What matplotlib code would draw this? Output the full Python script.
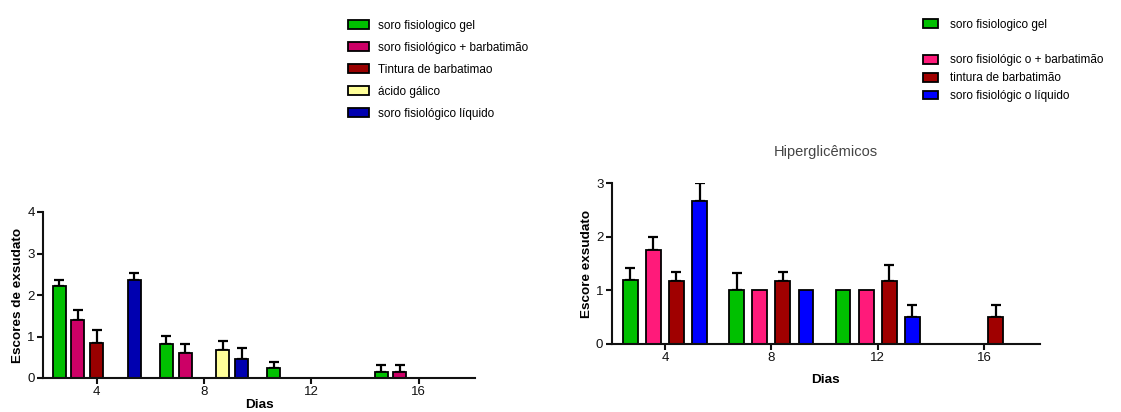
import numpy as np
import matplotlib
matplotlib.use("Agg")
import matplotlib.pyplot as plt
from matplotlib.patches import Patch

plt.rcParams['font.family'] = ['Liberation Sans', 'DejaVu Sans']

days = [4, 8, 12, 16]

# Left chart (no title)
left_labels = ["soro fisiologico gel", "soro fisiológico + barbatimão",
               "Tintura de barbatimao", "ácido gálico", "soro fisiológico líquido"]
left_colors = ["#00c000", "#cc0066", "#990000", "#ffff99", "#0000b0"]
left_gel = [2.21, 0.81, 0.24, 0.15]
left_gel_err = [0.14, 0.21, 0.14, 0.16]
left_sfb = [1.40, 0.61, 0.0, 0.15]
left_sfb_err = [0.24, 0.21, 0.0, 0.16]
left_tint = [0.84, 0.0, 0.0, 0.0]
left_tint_err = [0.32, 0.0, 0.0, 0.0]
left_acido = [0.0, 0.67, 0.0, 0.0]
left_acido_err = [0.0, 0.23, 0.0, 0.0]
left_liq = [2.35, 0.46, 0.0, 0.0]
left_liq_err = [0.17, 0.26, 0.0, 0.0]

# Right chart "Hiperglicêmicos"
right_labels = ["soro fisiologico gel", "soro fisiológic o + barbatimão",
                "tintura de barbatimão", "soro fisiológic o líquido"]
right_colors = ["#00c000", "#ff1a7a", "#a00000", "#0000ff"]
right_gel = [1.20, 1.00, 1.00, 0.0]
right_gel_err = [0.21, 0.32, 0.0, 0.0]
right_sfb = [1.75, 1.00, 1.00, 0.0]
right_sfb_err = [0.25, 0.0, 0.0, 0.0]
right_tint = [1.17, 1.17, 1.17, 0.50]
right_tint_err = [0.17, 0.17, 0.31, 0.23]
right_liq = [2.67, 1.00, 0.50, 0.0]
right_liq_err = [0.33, 0.0, 0.23, 0.0]

W, H = 1121, 412
fig = plt.figure(figsize=(W / 100, H / 100), dpi=100)


def draw(ax, series, errs, colors, labels, spacing, width, ymax, ylabel, xlpad):
    n = len(series)
    x = np.array(days, dtype=float)
    handles = []
    for i, (vals, err, c, lab) in enumerate(zip(series, errs, colors, labels)):
        off = (i - (n - 1) / 2) * spacing
        v = np.array(vals, dtype=float)
        e = np.array(err, dtype=float)
        vplot = np.where(v > 0, v, np.nan)
        b = ax.bar(x + off, vplot, width, color=c, edgecolor="black",
                   linewidth=1.3, label=lab, zorder=2)
        handles.append(b)
        m = (v > 0) & (e > 0)
        if m.any():
            ax.errorbar((x + off)[m], v[m], yerr=[np.zeros(m.sum()), e[m]],
                        fmt="none", ecolor="black", elinewidth=1.6,
                        capsize=3.5, capthick=1.6, zorder=1)
    ax.set_xlim(2, 18.1)
    ax.set_ylim(0, ymax)
    ax.set_xticks(days)
    ax.set_yticks(range(0, ymax + 1))
    for s in ["top", "right"]:
        ax.spines[s].set_visible(False)
    for s in ["left", "bottom"]:
        ax.spines[s].set_linewidth(1.5)
        ax.spines[s].set_color("#111111")
    ax.tick_params(axis="both", width=1.5, length=4, labelsize=9.5,
                   colors="#111111", pad=2)
    ax.set_ylabel(ylabel, fontsize=9.7, fontweight="bold", labelpad=2)
    ax.set_xlabel("Dias", fontsize=9.7, fontweight="bold", labelpad=xlpad)
    return handles


axL = fig.add_axes([43 / W, 1 - 378 / H, (475 - 43) / W, (378 - 212) / H])
hL = draw(axL, [left_gel, left_sfb, left_tint, left_acido, left_liq],
          [left_gel_err, left_sfb_err, left_tint_err, left_acido_err, left_liq_err],
          left_colors, left_labels, 0.7, 0.48, 4, "Escores de exsudato", 0.5)

axR = fig.add_axes([611.7 / W, 1 - 344 / H, (1040 - 611.7) / W, (344 - 183.3) / H])
hR = draw(axR, [right_gel, right_sfb, right_tint, right_liq],
          [right_gel_err, right_sfb_err, right_tint_err, right_liq_err],
          right_colors, right_labels, 0.87, 0.56, 3, "Escore exsudato", 7)
axR.set_title("Hiperglicêmicos", fontsize=10.5, color="#444444", pad=20)

legL = fig.legend(handles=hL, labels=left_labels, loc="upper left",
                  bbox_to_anchor=(337 / W, 1 - 9 / H), frameon=False,
                  fontsize=8.5, labelspacing=0.85, handlelength=1.8,
                  handleheight=0.75, handletextpad=0.8)

blank = Patch(facecolor="none", edgecolor="none")
hR2 = [hR[0], blank, hR[1], hR[2], hR[3]]
labR2 = [right_labels[0], "", right_labels[1], right_labels[2], right_labels[3]]
legR = fig.legend(handles=hR2, labels=labR2, loc="upper left",
                  bbox_to_anchor=(912 / W, 1 - 8 / H), frameon=False,
                  fontsize=8.5, labelspacing=0.5, handlelength=1.3,
                  handleheight=0.75, handletextpad=1.0)

fig.savefig("out.png", dpi=100)
